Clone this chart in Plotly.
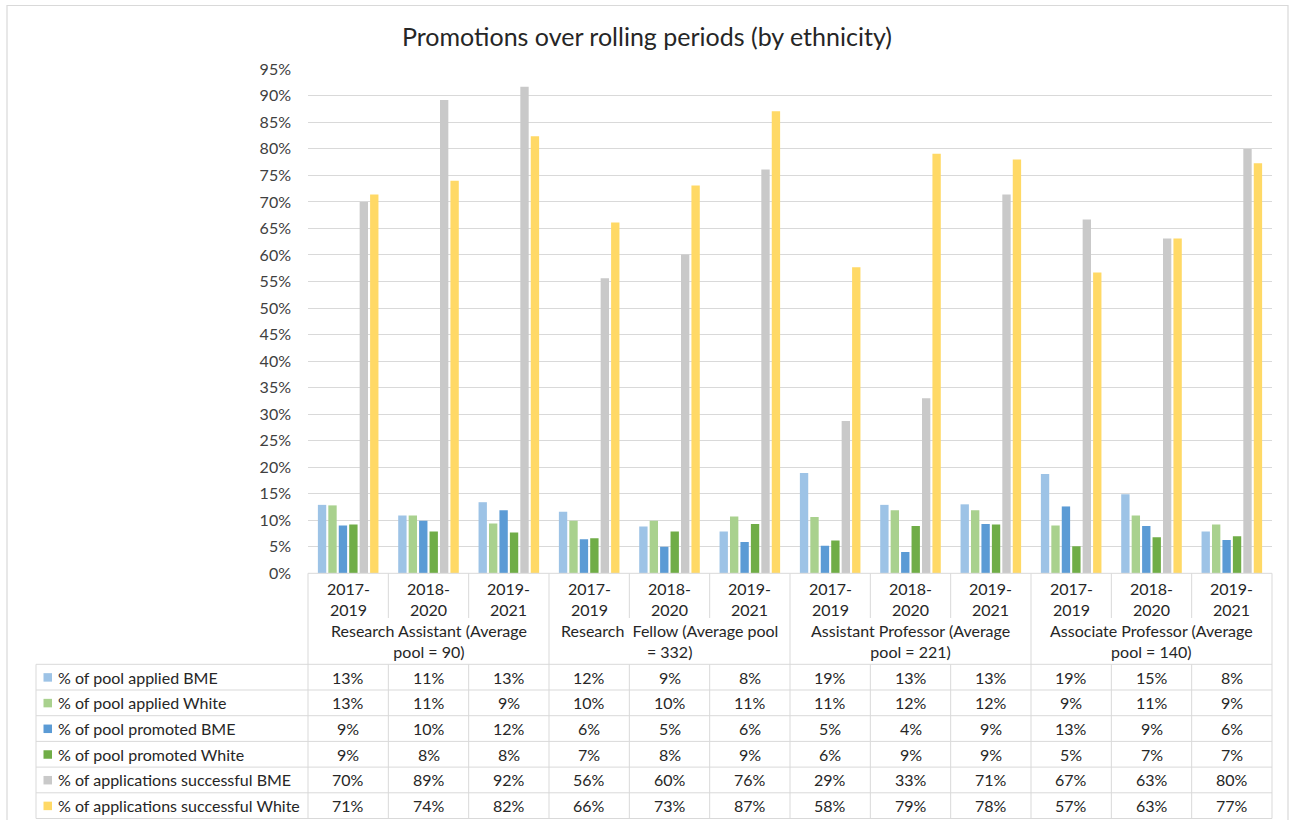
import plotly.graph_objects as go

# ---------------- data ----------------
periods = ["2017-2019", "2018-2020", "2019-2021"]
groups = [
    "Research Assistant (Average<br>pool = 90)",
    "Research\u00a0\u00a0Fellow (Average pool<br>= 332)",
    "Assistant Professor (Average<br>pool = 221)",
    "Associate Professor (Average<br>pool = 140)",
]
series_names = [
    "% of pool applied BME",
    "% of pool applied White",
    "% of pool promoted BME",
    "% of pool promoted White",
    "% of applications successful BME",
    "% of applications successful White",
]
applied_bme = [12.9, 10.9, 13.4, 11.6, 8.8, 7.9, 18.9, 12.9, 13.0, 18.7, 14.9, 7.9]
applied_white = [12.8, 10.9, 9.4, 9.9, 9.9, 10.7, 10.6, 11.9, 11.9, 9.0, 10.9, 9.2]
promoted_bme = [9.0, 9.9, 11.9, 6.4, 5.0, 5.9, 5.2, 4.0, 9.3, 12.6, 8.9, 6.3]
promoted_white = [9.2, 7.9, 7.7, 6.6, 7.9, 9.3, 6.2, 8.9, 9.2, 5.1, 6.8, 7.0]
success_bme = [70.0, 89.2, 91.7, 55.6, 60.1, 76.1, 28.7, 33.0, 71.4, 66.7, 63.1, 80.0]
success_white = [71.4, 74.0, 82.4, 66.1, 73.1, 87.1, 57.7, 79.1, 78.0, 56.7, 63.1, 77.3]
series_values = [applied_bme, applied_white, promoted_bme, promoted_white, success_bme, success_white]
colors = ["#9DC3E6", "#A9D18E", "#5B9BD5", "#70AD47", "#C9C9C9", "#FFD966"]
y_ticks = [i * 5 for i in range(20)]

# ---------------- geometry helpers ----------------
W, H = 1295, 820
FONT = "Lato"
TXT = "#262626"
GRID = "#D9D9D9"
FS = 16


def px(x):
    return x / W


def py(y):
    return 1 - y / H


plot_l, plot_r = 308, 1272
plot_t, plot_b = 69.3, 573.3
ncol = len(periods) * len(groups)
colw = (plot_r - plot_l) / ncol
row_top = 664.3
row_h = 25.7

fig = go.Figure()
xs = list(range(ncol))
for name, vals, col in zip(series_names, series_values, colors):
    fig.add_bar(x=xs, y=[v / 100 for v in vals], name=name, marker_color=col,
                marker_line_width=0, showlegend=False)

shapes = []
annotations = []


def hline(x0, x1, y, color=GRID):
    shapes.append(dict(type="line", xref="paper", yref="paper", x0=px(x0), x1=px(x1),
                       y0=py(y), y1=py(y), line=dict(color=color, width=1)))


def vline(x, y0, y1, color=GRID):
    shapes.append(dict(type="line", xref="paper", yref="paper", x0=px(x), x1=px(x),
                       y0=py(y0), y1=py(y1), line=dict(color=color, width=1)))


def text(x, y, s, size=FS, xanchor="center", color=TXT):
    annotations.append(dict(xref="paper", yref="paper", x=px(x), y=py(y), text=s,
                            showarrow=False, xanchor=xanchor, yanchor="middle",
                            font=dict(family=FONT, size=size, color=color)))


# chart border
shapes.append(dict(type="rect", xref="paper", yref="paper", x0=px(7), x1=px(1288),
                   y0=py(830), y1=py(5.5), line=dict(color=GRID, width=1.2)))

# table header lines
hline(plot_l, plot_r, plot_b)
for k in range(ncol + 1):
    xk = plot_l + k * colw
    if k % 3 == 0:
        vline(xk, plot_b, row_top + 6 * row_h)
    else:
        vline(xk, plot_b, 618)
        vline(xk, row_top, row_top + 6 * row_h)
for i in range(7):
    hline(36, plot_r, row_top + i * row_h)
vline(36, row_top, row_top + 6 * row_h)

# period labels (two lines)
for k in range(ncol):
    cx = plot_l + (k + 0.5) * colw
    a, b = periods[k % 3].split("-")
    text(cx, 598.5, a + "-<br>" + b)

# group labels (two lines)
for g, lab in enumerate(groups):
    cx = plot_l + (g * 3 + 1.5) * colw
    text(cx, 641, lab)

# table rows
for i, (name, vals, col) in enumerate(zip(series_names, series_values, colors)):
    cy = row_top + (i + 0.5) * row_h
    shapes.append(dict(type="rect", xref="paper", yref="paper", x0=px(43.5), x1=px(52),
                       y0=py(cy + 4.5), y1=py(cy - 4), fillcolor=col, line=dict(width=0)))
    text(56, cy, name, xanchor="left")
    for k, v in enumerate(vals):
        cx = plot_l + (k + 0.5) * colw
        text(cx, cy, f"{v:.0f}%")

# title
text(647, 36, "Promotions over rolling periods (by ethnicity)", size=25)

fig.update_layout(
    width=W, height=H,
    margin=dict(l=0, r=0, t=0, b=0, autoexpand=False),
    paper_bgcolor="white", plot_bgcolor="white",
    barmode="group", bargap=0.22, bargroupgap=0.2,
    shapes=shapes, annotations=annotations,
    font=dict(family=FONT, size=FS, color=TXT),
    xaxis=dict(domain=[px(plot_l), px(plot_r)], range=[-0.5, ncol - 0.5],
               showticklabels=False, showgrid=False, zeroline=False, showline=False,
               fixedrange=True, automargin=False),
    yaxis=dict(domain=[py(plot_b), py(plot_t)], range=[0, 0.95],
               tickvals=[t / 100 for t in y_ticks], ticktext=[f"{t}%" for t in y_ticks],
               showgrid=True, gridcolor=GRID, gridwidth=1, zeroline=False,
               showline=False, ticks="", ticklabelstandoff=16, automargin=False,
               tickfont=dict(family=FONT, size=FS, color="#404040"), fixedrange=True),
)

fig.write_html("out.html")
